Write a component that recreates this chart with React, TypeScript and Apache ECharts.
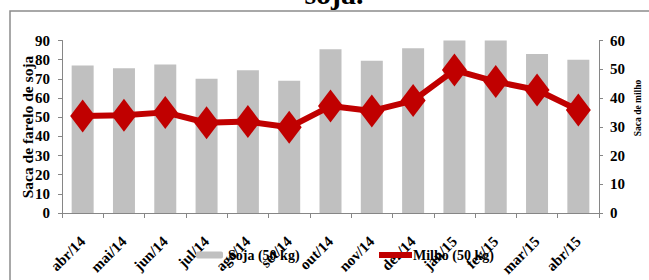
import React, { useEffect, useRef } from "react";
import * as echarts from "echarts";

const categories = ["abr/14", "mai/14", "jun/14", "jul/14", "ago/14", "set/14", "out/14", "nov/14", "dez/14", "jan/15", "fev/15", "mar/15", "abr/15"];
const sojaValues = [77, 75.5, 77.5, 70, 74.5, 69, 85.5, 79.5, 86, 90, 90, 83, 80];
const milhoValues = [33.7, 34, 35, 31.4, 31.8, 29.8, 37.2, 35.5, 39.1, 49.7, 45.7, 42.8, 35.8];
const sojaName = "Soja (50 kg)";
const milhoName = "Milho (50 kg)";
const titleText = "soja.";
const leftAxisName = "Saca de farelo de soja";
const rightAxisName = "Saca de milho";

const FONT = "'Liberation Serif', 'DejaVu Serif', serif";
const AXIS_COLOR = "#868686";

export default function App() {
  const ref = useRef<HTMLDivElement>(null);
  useEffect(() => {
    if (!ref.current) return;
    const chart = echarts.init(ref.current, null, { renderer: "svg" });
    const labelStyle = { fontFamily: FONT, fontWeight: "bold" as const, fontSize: 15, color: "#000" };
    chart.setOption({
      animation: false,
      backgroundColor: "#fff",
      graphic: [
        {
          type: "rect",
          shape: { x: 10, y: 11, width: 700, height: 300 },
          style: { fill: "none", stroke: "#8c8c8c", lineWidth: 1.5 },
          silent: true,
        },
        {
          type: "text",
          x: 334,
          y: -7,
          style: {
            text: titleText,
            font: `bold 30px ${FONT}`,
            fill: "#000",
            align: "center",
            verticalAlign: "middle",
          },
        },
        {
          type: "text",
          x: 27.5,
          y: 127,
          rotation: Math.PI / 2,
          style: {
            text: leftAxisName,
            font: `bold 15.5px ${FONT}`,
            fill: "#000",
            align: "center",
            verticalAlign: "middle",
          },
        },
        {
          type: "text",
          x: 638,
          y: 108,
          rotation: Math.PI / 2,
          style: {
            text: rightAxisName,
            font: `bold 9.5px ${FONT}`,
            fill: "#000",
            align: "center",
            verticalAlign: "middle",
          },
        },
      ],
      grid: { left: 62, right: 50, top: 40.5, bottom: 67 },
      legend: [
        {
          data: [sojaName],
          left: 196,
          top: 248,
          padding: 0,
          itemWidth: 27,
          itemHeight: 7,
          textStyle: { fontFamily: FONT, fontWeight: "bold", fontSize: 14, color: "#000" },
        },
        {
          data: [{ name: milhoName, icon: "rect", itemStyle: { color: "#C00000" } }],
          left: 379,
          top: 248,
          padding: 0,
          itemWidth: 33,
          itemHeight: 6,
          itemGap: 0,
          textStyle: { fontFamily: FONT, fontWeight: "bold", fontSize: 14, color: "#000", padding: [0, 0, 0, -4] },
        },
      ],
      xAxis: {
        type: "category",
        data: categories,
        axisLine: { show: true, lineStyle: { color: AXIS_COLOR, width: 1 } },
        axisTick: { show: true, length: 5, lineStyle: { color: AXIS_COLOR } },
        axisLabel: { ...labelStyle, rotate: 45, margin: 26, interval: 0 },
      },
      yAxis: [
        {
          type: "value",
          min: 0,
          max: 90,
          interval: 10,
          axisLine: { show: true, lineStyle: { color: AXIS_COLOR, width: 1 } },
          axisTick: { show: true, length: 4, lineStyle: { color: AXIS_COLOR } },
          axisLabel: { ...labelStyle, margin: 12 },
          splitLine: { show: false },
        },
        {
          type: "value",
          min: 0,
          max: 60,
          interval: 10,
          position: "right",
          axisLine: { show: true, lineStyle: { color: AXIS_COLOR, width: 1 } },
          axisTick: { show: true, length: 4, lineStyle: { color: AXIS_COLOR } },
          axisLabel: { ...labelStyle, margin: 11 },
          splitLine: { show: false },
        },
      ],
      series: [
        {
          name: sojaName,
          type: "bar",
          data: sojaValues,
          barWidth: 22,
          itemStyle: { color: "#C0C0C0" },
          z: 1,
        },
        {
          name: milhoName,
          type: "line",
          yAxisIndex: 1,
          data: milhoValues,
          symbol: "diamond",
          symbolSize: [25, 33],
          lineStyle: { color: "#C00000", width: 6 },
          itemStyle: { color: "#C00000" },
          z: 3,
        },
      ],
    });
    return () => chart.dispose();
  }, []);
  return <div ref={ref} style={{ position: "fixed", left: 0, top: 0, width: 649, height: 280 }} />;
}
